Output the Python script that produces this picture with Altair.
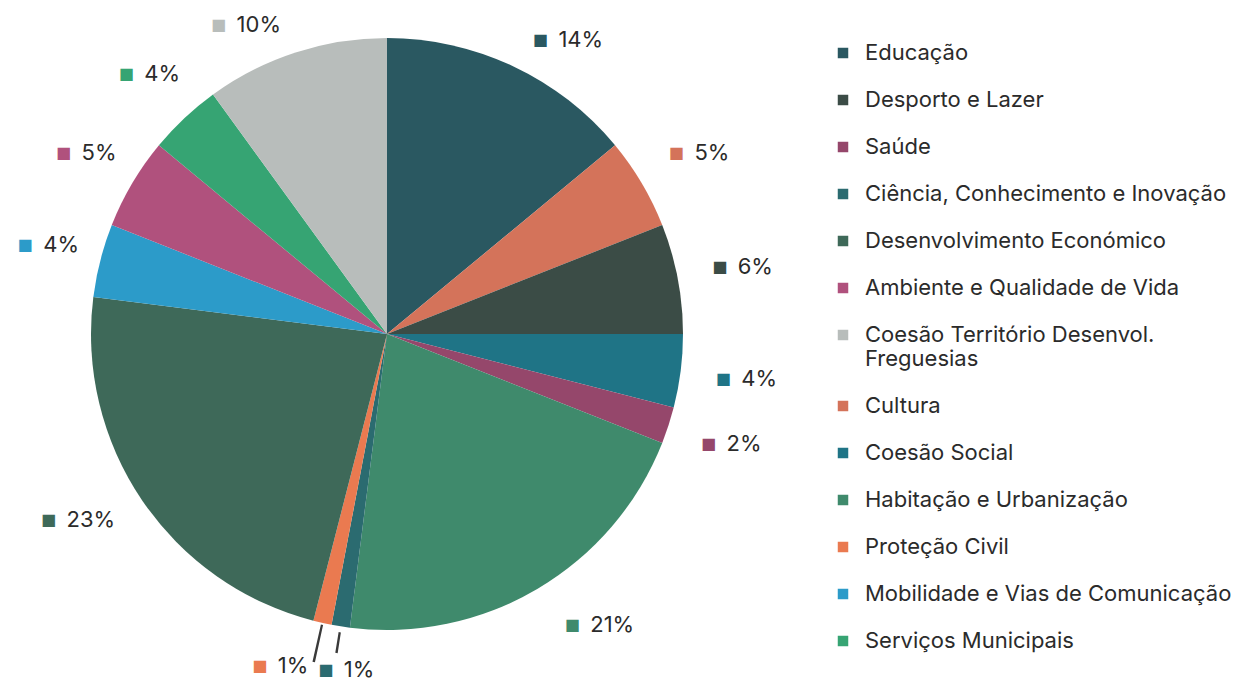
import altair as alt
import pandas as pd
import math

# slices in clockwise order starting at 12 o'clock
categories = [
    "Educação", "Cultura", "Desporto e Lazer", "Coesão Social", "Saúde",
    "Habitação e Urbanização", "Ciência, Conhecimento e Inovação", "Proteção Civil",
    "Desenvolvimento Económico", "Mobilidade e Vias de Comunicação",
    "Ambiente e Qualidade de Vida", "Serviços Municipais",
    "Coesão Território Desenvol. Freguesias",
]
shares = [14, 5, 6, 4, 2, 21, 1, 1, 23, 4, 5, 4, 10]

legend_order = [
    "Educação", "Desporto e Lazer", "Saúde", "Ciência, Conhecimento e Inovação",
    "Desenvolvimento Económico", "Ambiente e Qualidade de Vida",
    "Coesão Território Desenvol. Freguesias", "Cultura", "Coesão Social",
    "Habitação e Urbanização", "Proteção Civil", "Mobilidade e Vias de Comunicação",
    "Serviços Municipais",
]
legend_colors = [
    "#2a5861", "#3b4c46", "#95476b", "#2b6b70",
    "#3e6959", "#b0517d",
    "#b8bdbb", "#d4735a", "#1f7486",
    "#3f8a6c", "#ea7a50", "#2c9bc9",
    "#36a473",
]

df = pd.DataFrame({"cat": categories, "share": shares})
df["idx"] = range(len(df))
df["label"] = df["share"].astype(str) + "%"

FONT = "Inter"
TXT = "#2b2b2b"
R = 296

cscale = alt.Scale(domain=legend_order, range=legend_colors)
tscale = alt.Scale(domain=[0, 100], range=[0, 2 * math.pi])

legend = alt.Legend(
    title=None, orient="none", legendX=824, legendY=34,
    symbolType="square", symbolSize=110, symbolStrokeWidth=0,
    labelFont=FONT, labelFontSize=22, labelColor=TXT, labelOffset=11,
    rowPadding=25, labelLimit=600,
    labelExpr="datum.label == 'Coesão Território Desenvol. Freguesias' ? ['Coesão Território Desenvol.', 'Freguesias'] : datum.label",
)

base = alt.Chart(df).transform_window(
    cum="sum(share)", sort=[alt.SortField("idx")], frame=[None, 0]
).transform_calculate(
    start="datum.cum - datum.share", mid="datum.cum - datum.share / 2",
    m1="datum.cum - datum.share / 2 - 0.06", m2="datum.cum - datum.share / 2 + 0.06",
)

shadow = alt.Chart(pd.DataFrame({"v": [1]})).mark_arc(
    outerRadius=R + 1, color="#2c4a3f"
).encode(theta=alt.Theta("v:Q"), x=alt.value(378), y=alt.value(334))

pie = base.mark_arc(outerRadius=R).encode(
    theta=alt.Theta("start:Q", scale=tscale),
    theta2="cum:Q",
    color=alt.Color("cat:N", scale=cscale, legend=legend),
)

lead_o = base.transform_filter("datum.cat == 'Proteção Civil'").mark_arc(
    innerRadius=R + 2, outerRadius=R + 40, color="#3a3a3a"
).encode(theta=alt.Theta("m1:Q", scale=tscale), theta2="m2:Q")
lead_t = base.transform_filter("datum.cat == 'Ciência, Conhecimento e Inovação'").mark_arc(
    innerRadius=R + 6, outerRadius=R + 27, color="#3a3a3a"
).encode(theta=alt.Theta("m1:Q", scale=tscale), theta2="m2:Q")


def labels(cond, r, ddx, ddy=0):
    sub = base.transform_filter(cond)
    sq = sub.mark_text(
        radius=r, font="DejaVu Sans", fontSize=16, dx=-18 + ddx, dy=ddy, baseline="middle"
    ).encode(
        theta=alt.Theta("mid:Q", scale=tscale),
        text=alt.value("■"),
        color=alt.Color("cat:N", scale=cscale, legend=None),
    )
    num = sub.mark_text(
        radius=r, font=FONT, fontSize=22, dx=ddx, dy=ddy, align="left",
        baseline="middle", color=TXT,
    ).encode(theta=alt.Theta("mid:Q", scale=tscale), text="label:N")
    return [sq, num]


layers = [shadow, pie, lead_o, lead_t]
layers += labels("datum.mid >= 10 && datum.mid <= 90 && datum.share > 1 && datum.share < 20", 356, 1)
layers += labels("datum.share == 21", 356, 22, -15)
layers += labels("datum.share == 23", 356, -26, -14)
layers += labels("datum.mid < 10", 325, 33)
layers += labels("datum.mid > 90", 325, -50)
layers += labels("datum.cat == 'Proteção Civil'", 340, -35)
layers += labels("datum.cat == 'Ciência, Conhecimento e Inovação'", 340, 10)

chart = alt.layer(*layers).properties(
    width=758, height=652, padding=0, background="white"
).configure_view(stroke=None)

chart.save("out.html", embed_options={"renderer": "svg", "actions": False})
